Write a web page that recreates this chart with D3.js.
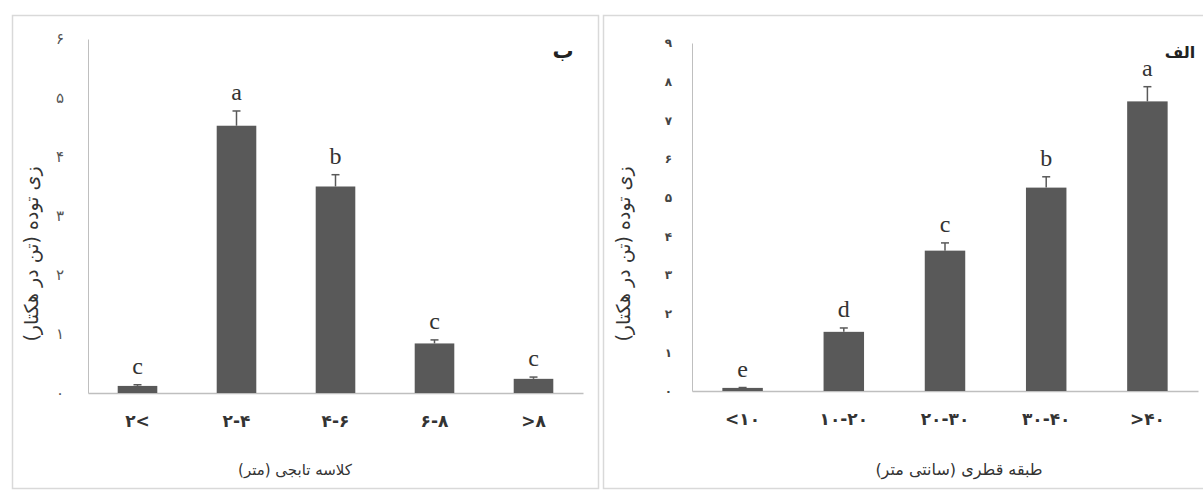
<!DOCTYPE html>
<html>
<head>
<meta charset="utf-8">
<script src="https://cdn.jsdelivr.net/npm/d3@7"></script>
<style>
  body { margin: 0; background: #fff; }
  svg { display: block; }
</style>
</head>
<body>
<svg id="chart" width="1203" height="493"></svg>
<script>
// ---- data (panel ب : crown class, panel الف : diameter class) ----
var crownClasses = ["۲<", "۲-۴", "۴-۶", "۶-۸", ">۸"];
var crownBiomass = [0.12, 4.53, 3.50, 0.84, 0.24];
var crownError   = [0.02, 0.25, 0.20, 0.06, 0.03];
var crownGroups  = ["c", "a", "b", "c", "c"];
var crownTicks   = [0, 1, 2, 3, 4, 5, 6];

var diamClasses = ["<۱۰", "۱۰-۲۰", "۲۰-۳۰", "۳۰-۴۰", ">۴۰"];
var diamBiomass = [0.08, 1.53, 3.63, 5.26, 7.49];
var diamError   = [0.01, 0.10, 0.20, 0.28, 0.38];
var diamGroups  = ["e", "d", "c", "b", "a"];
var diamTicks   = [0, 1, 2, 3, 4, 5, 6, 7, 8, 9];

var yTitle = "زی توده (تن در هکتار)";

var svg = d3.select("#chart");
var barColor = "#595959";
var axisColor = "#bfbfbf";
var faFont = "DejaVu Sans, sans-serif";

// persian digits
function fa(n) {
    return String(n).replace(/\d/g, function(d) { return "۰۱۲۳۴۵۶۷۸۹"[d]; });
}

function drawPanel(p) {
    var data = p.classes.map(function(c, i) {
        return {cls: c, value: p.values[i], err: p.errors[i], group: p.groups[i]};
    });

    // frame
    svg.append("rect")
        .attr("x", p.frame[0] + 0.5).attr("y", 15.5)
        .attr("width", p.frame[1]).attr("height", 473)
        .attr("fill", "none").attr("stroke", "#d9d9d9").attr("stroke-width", 1.5);

    var x = d3.scaleBand()
        .domain(p.classes)
        .range([p.x0, p.x1])
        .paddingInner(0.6)
        .paddingOuter(0.3);

    var y = d3.scaleLinear()
        .domain([0, d3.max(p.ticks)])
        .range([p.y0, p.y1]);

    var g = svg.append("g");

    // Y axis
    var yAxis = g.append("g")
        .attr("transform", "translate(" + p.x0 + ",0)")
        .call(d3.axisLeft(y).tickValues(p.ticks).tickSize(0).tickPadding(p.tickPad).tickFormat(fa));
    yAxis.select(".domain").attr("stroke", axisColor);
    yAxis.selectAll("text")
        .attr("font-family", faFont)
        .attr("font-size", p.yFont)
        .attr("font-weight", p.yWeight)
        .attr("fill", p.yColor);

    // X axis
    var xAxis = g.append("g")
        .attr("transform", "translate(0," + p.y0 + ")")
        .call(d3.axisBottom(x).tickSize(0).tickPadding(22));
    xAxis.select(".domain").attr("stroke", axisColor).attr("stroke-width", 1.5);
    xAxis.selectAll("text")
        .attr("font-family", faFont)
        .attr("font-size", "17px")
        .attr("font-weight", "bold")
        .attr("fill", "#333")
        .attr("direction", "ltr");

    // Bars
    g.selectAll("rect.bar")
        .data(data)
        .enter()
        .append("rect")
        .attr("class", "bar")
        .attr("x", function(d) { return x(d.cls); })
        .attr("width", x.bandwidth())
        .attr("y", function(d) { return y(d.value); })
        .attr("height", function(d) { return p.y0 - y(d.value); })
        .attr("fill", barColor);

    // error bars
    var eb = g.selectAll("g.err")
        .data(data)
        .enter()
        .append("g")
        .attr("class", "err")
        .attr("stroke", barColor)
        .attr("stroke-width", 1.5);
    eb.append("line")
        .attr("x1", function(d) { return x(d.cls) + x.bandwidth() / 2; })
        .attr("x2", function(d) { return x(d.cls) + x.bandwidth() / 2; })
        .attr("y1", function(d) { return y(d.value); })
        .attr("y2", function(d) { return y(d.value + d.err); });
    eb.append("line")
        .attr("x1", function(d) { return x(d.cls) + x.bandwidth() / 2 - 4; })
        .attr("x2", function(d) { return x(d.cls) + x.bandwidth() / 2 + 4; })
        .attr("y1", function(d) { return y(d.value + d.err); })
        .attr("y2", function(d) { return y(d.value + d.err); });

    // significance letters
    g.selectAll("text.grp")
        .data(data)
        .enter()
        .append("text")
        .attr("class", "grp")
        .attr("x", function(d) { return x(d.cls) + x.bandwidth() / 2; })
        .attr("y", function(d) { return y(d.value + d.err) - 11; })
        .attr("text-anchor", "middle")
        .attr("font-family", "Liberation Serif, serif")
        .attr("font-size", "24px")
        .attr("fill", "#333")
        .text(function(d) { return d.group; });

    // panel letter
    g.append("text")
        .attr("x", p.tagX).attr("y", 58)
        .attr("text-anchor", "middle")
        .attr("font-family", faFont)
        .attr("font-size", p.tagFont)
        .attr("font-weight", "bold")
        .attr("fill", "#222")
        .text(p.tag);

    // axis titles
    g.append("text")
        .attr("transform", "translate(" + p.yTitleX + ",254) rotate(-90)")
        .attr("text-anchor", "middle")
        .attr("direction", "rtl")
        .attr("font-family", faFont)
        .attr("font-size", "19px")
        .attr("fill", "#333")
        .text(yTitle);

    g.append("text")
        .attr("x", p.xTitleX).attr("y", 475)
        .attr("text-anchor", "middle")
        .attr("direction", "rtl")
        .attr("font-family", faFont)
        .attr("font-size", p.xTitleFont)
        .attr("fill", "#333")
        .text(p.xTitle);
}

drawPanel({
    classes: crownClasses, values: crownBiomass, errors: crownError, groups: crownGroups,
    ticks: crownTicks, frame: [12, 586],
    x0: 88, x1: 583, y0: 393, y1: 39, tickPad: 24, yFont: "15px", yWeight: "normal", yColor: "#555",
    tag: "ب", tagX: 563, tagFont: "21px",
    yTitleX: 38, xTitle: "کلاسه تابجی (متر)", xTitleX: 295, xTitleFont: "15px"
});

drawPanel({
    classes: diamClasses, values: diamBiomass, errors: diamError, groups: diamGroups,
    ticks: diamTicks, frame: [603, 620],
    x0: 692, x1: 1198, y0: 391, y1: 43, tickPad: 20, yFont: "12px", yWeight: "bold", yColor: "#444",
    tag: "الف", tagX: 1180, tagFont: "16px",
    yTitleX: 630, xTitle: "طبقه قطری (سانتی متر)", xTitleX: 959, xTitleFont: "16px"
});
</script>
</body>
</html>
